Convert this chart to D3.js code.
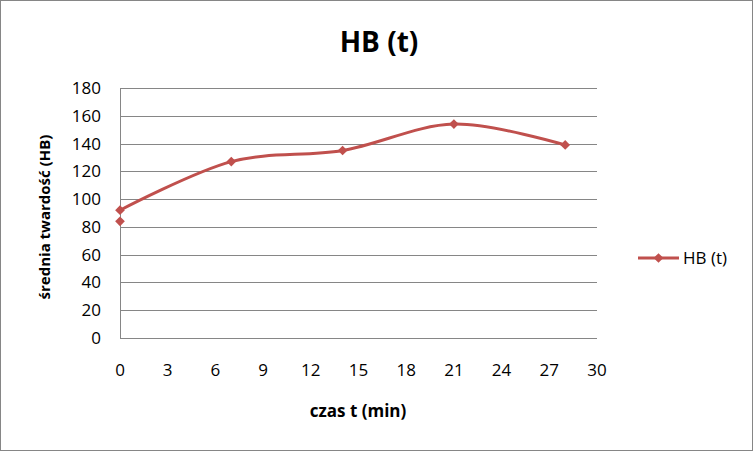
<!DOCTYPE html>
<html>
<head>
<meta charset="utf-8">
<script src="https://cdn.jsdelivr.net/npm/d3@7"></script>
<style>
  body { margin: 0; background: #fff; }
  svg { display: block; }
</style>
</head>
<body>
<svg id="chart"></svg>
<script>
// data
const chartTitle = 'HB (t)'
const seriesName = 'HB (t)'
const timeMin = [0, 0, 7, 14, 21, 28]
const hardness = [84, 92, 127, 135, 154, 139]
// the first point is only a marker, the curve starts at the second one
const lineStart = 1
const xTicks = [0, 3, 6, 9, 12, 15, 18, 21, 24, 27, 30]
const yTicks = [0, 20, 40, 60, 80, 100, 120, 140, 160, 180]
const xTitle = 'czas t (min)'
const yTitle = 'średnia twardość (HB)'

const width = 753, height = 451
const plot = {left: 120, right: 597, top: 88, bottom: 338}
const red = '#C0504D'
const grid = '#868686'
const font = 'Open Sans, DejaVu Sans, sans-serif'

const svg = d3.select('#chart')
              .attr('width', width)
              .attr('height', height)
              .attr('font-family', font)

// outer frame
svg.append('rect')
   .attr('x', 0.5).attr('y', 0.5)
   .attr('width', width - 1).attr('height', height - 1)
   .attr('fill', '#fff')
   .attr('stroke', '#868686')

const x = d3.scaleLinear([0, 30], [plot.left, plot.right])
const y = d3.scaleLinear([0, 180], [plot.bottom, plot.top])

// horizontal gridlines
svg.append('g')
   .selectAll('line')
   .data(yTicks)
   .join('line')
     .attr('x1', plot.left)
     .attr('x2', plot.right)
     .attr('y1', d => Math.round(y(d)) + 0.5)
     .attr('y2', d => Math.round(y(d)) + 0.5)
     .attr('stroke', grid)

// y axis line
svg.append('line')
   .attr('x1', plot.left + 0.5).attr('x2', plot.left + 0.5)
   .attr('y1', plot.top).attr('y2', plot.bottom + 1)
   .attr('stroke', grid)

// y tick labels
svg.append('g')
   .selectAll('text')
   .data(yTicks)
   .join('text')
     .attr('x', 101)
     .attr('y', d => y(d))
     .attr('dy', '0.35em')
     .attr('text-anchor', 'end')
     .attr('font-size', 17)
     .attr('fill', '#000')
     .text(d => d)

// x tick labels
svg.append('g')
   .selectAll('text')
   .data(xTicks)
   .join('text')
     .attr('x', d => x(d))
     .attr('y', 370)
     .attr('dy', '0.35em')
     .attr('text-anchor', 'middle')
     .attr('font-size', 17)
     .attr('fill', '#000')
     .text(d => d)

// titles
svg.append('text')
   .attr('x', 379).attr('y', 42)
   .attr('dy', '0.35em')
   .attr('text-anchor', 'middle')
   .attr('font-size', 28)
   .attr('font-weight', 'bold')
   .text(chartTitle)

svg.append('text')
   .attr('x', 358).attr('y', 411)
   .attr('dy', '0.35em')
   .attr('text-anchor', 'middle')
   .attr('font-size', 17)
   .attr('font-weight', 'bold')
   .text(xTitle)

svg.append('text')
   .attr('transform', 'translate(45, 217) rotate(-90)')
   .attr('dy', '0.35em')
   .attr('text-anchor', 'middle')
   .attr('font-size', 15)
   .attr('font-weight', 'bold')
   .text(yTitle)

// series
const I = d3.range(timeMin.length)
const line = d3.line()
               .x(i => x(timeMin[i]))
               .y(i => y(hardness[i]))
               .curve(d3.curveCardinal.tension(0))
svg.append('path')
   .attr('d', line(I.slice(lineStart)))
   .attr('fill', 'none')
   .attr('stroke', red)
   .attr('stroke-width', 3)
   .attr('stroke-linejoin', 'round')

const diamond = d3.symbol(d3.symbolDiamond2, 60)
svg.append('g')
   .selectAll('path')
   .data(I)
   .join('path')
     .attr('transform', i => `translate(${x(timeMin[i])},${y(hardness[i])})`)
     .attr('d', diamond)
     .attr('fill', red)

// legend
const legend = svg.append('g').attr('transform', 'translate(638, 258)')
legend.append('line')
      .attr('x1', 0).attr('x2', 41)
      .attr('stroke', red)
      .attr('stroke-width', 3)
legend.append('path')
      .attr('transform', 'translate(20.5,0)')
      .attr('d', diamond)
      .attr('fill', red)
legend.append('text')
      .attr('x', 45)
      .attr('dy', '0.35em')
      .attr('font-size', 17)
      .text(seriesName)
</script>
</body>
</html>
